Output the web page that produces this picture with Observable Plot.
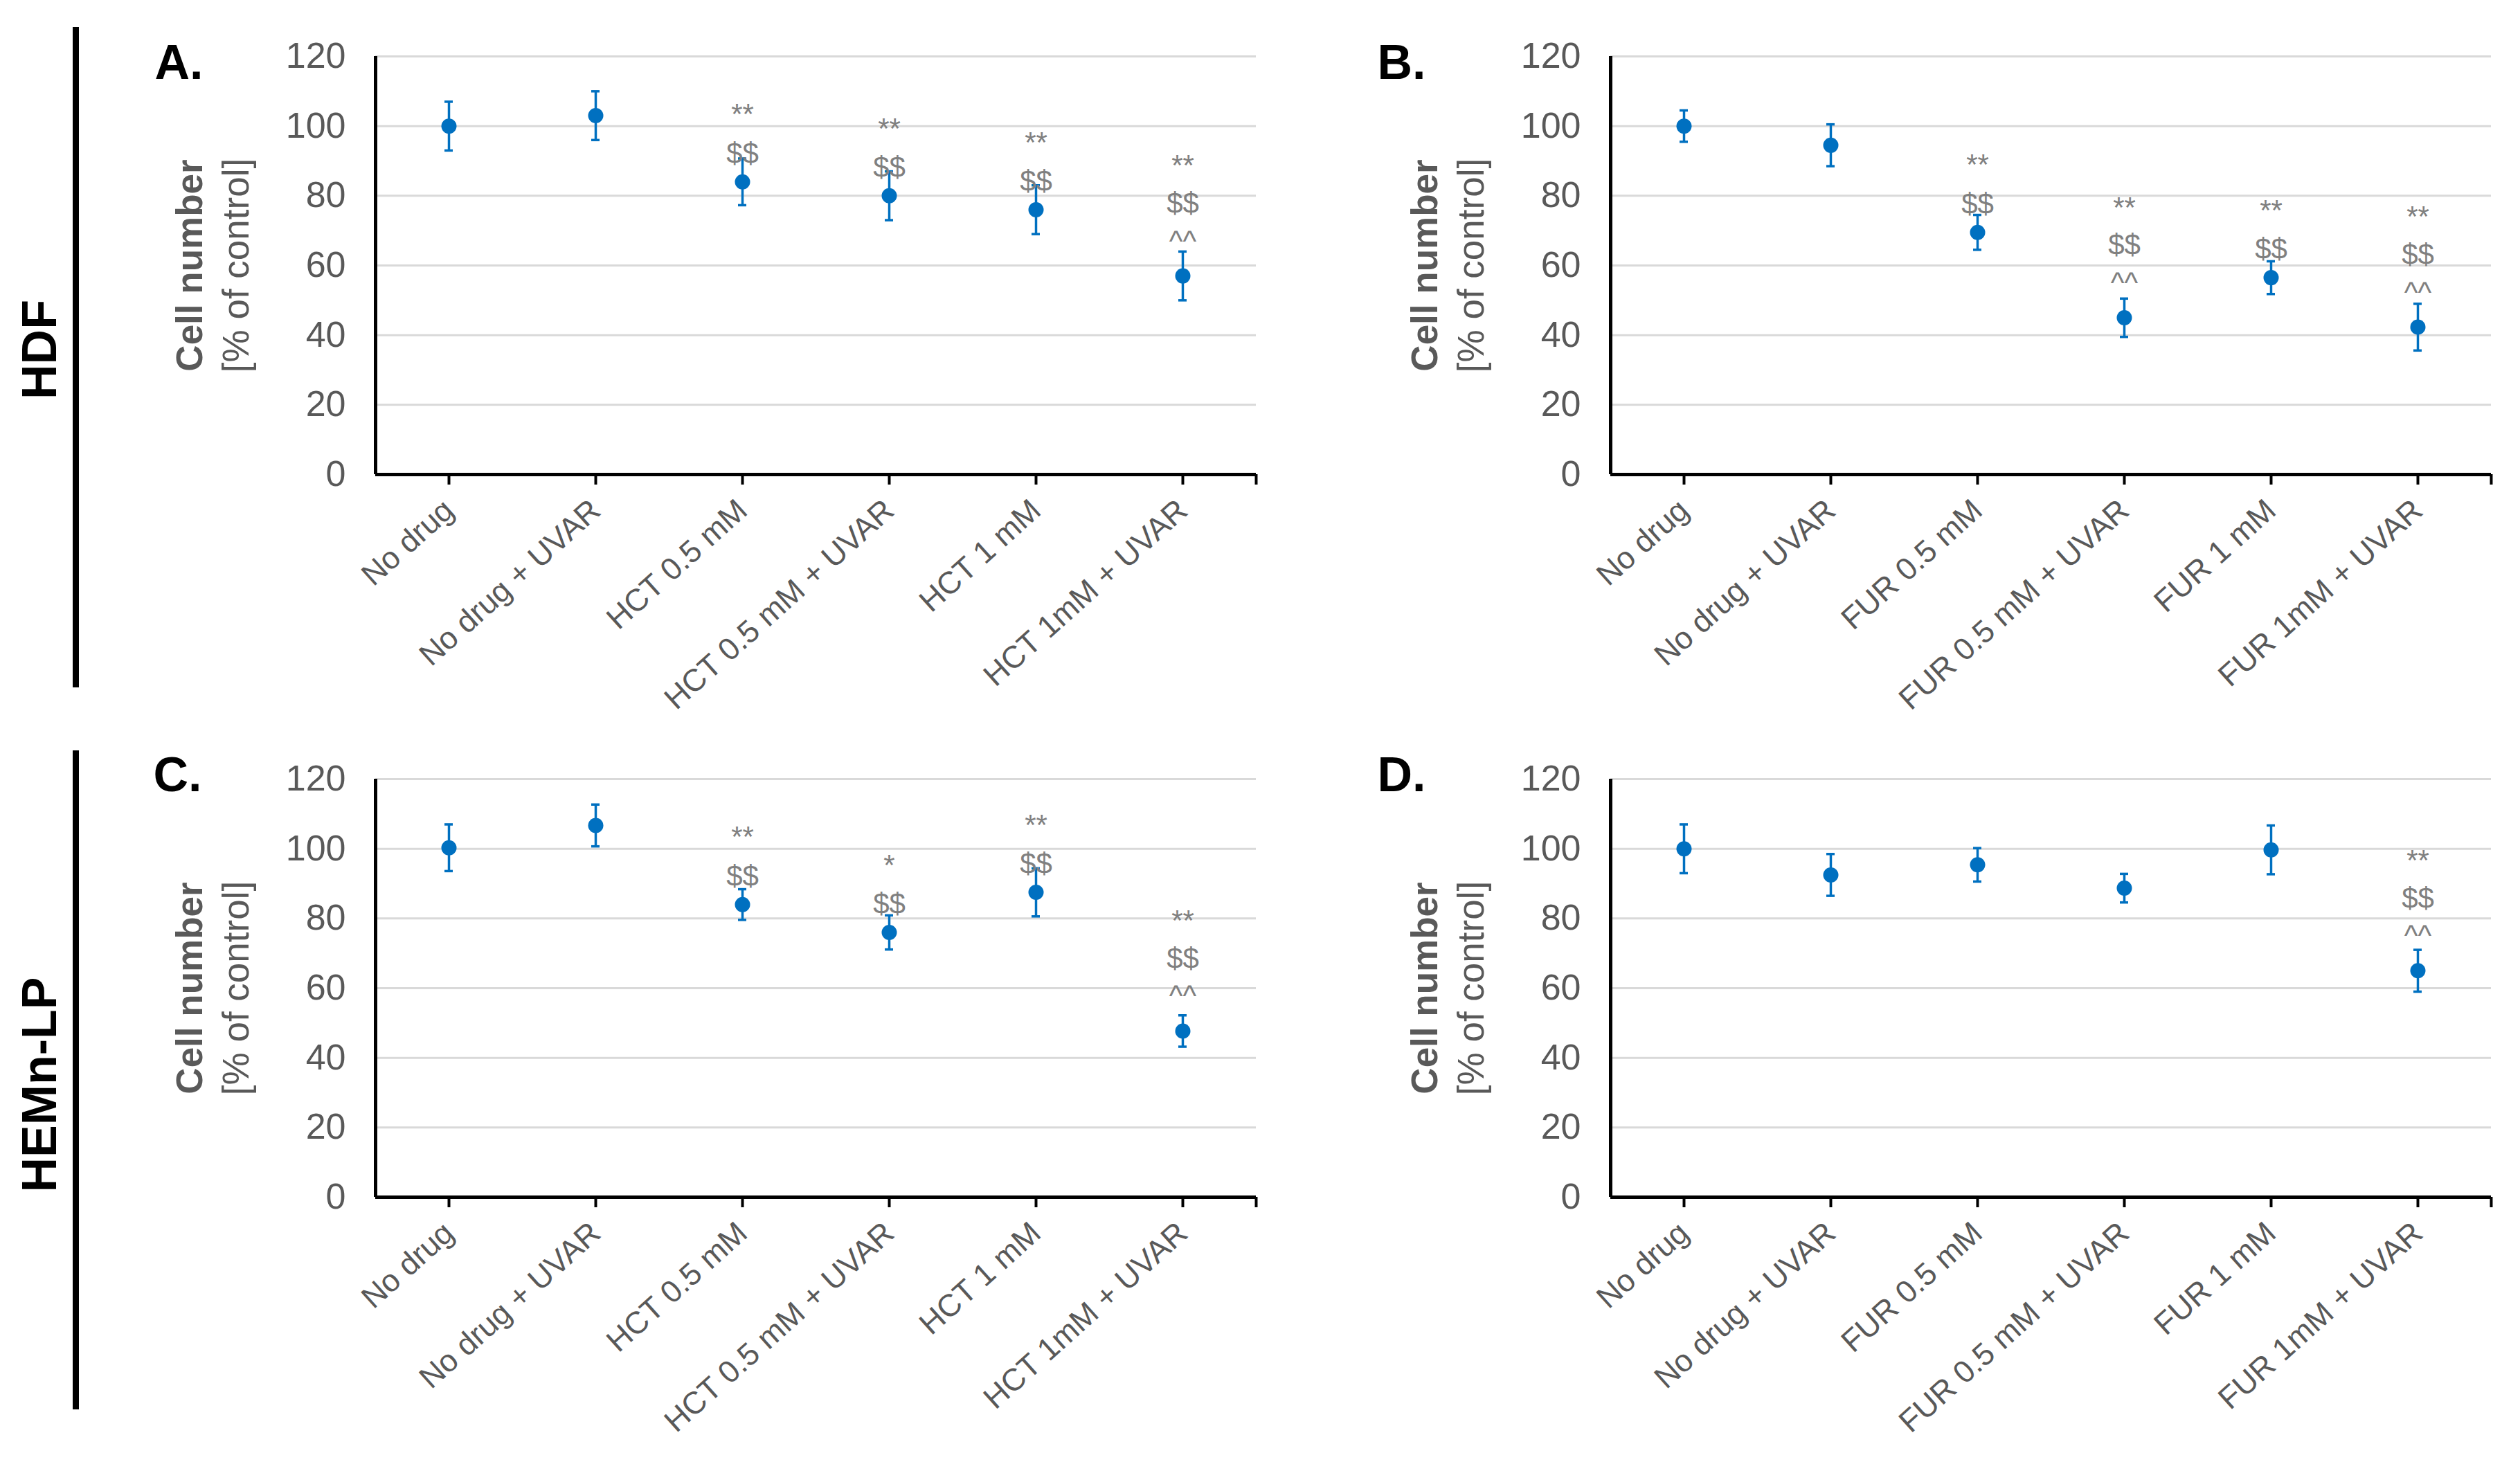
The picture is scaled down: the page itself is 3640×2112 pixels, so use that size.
<!DOCTYPE html>
<html><head><meta charset="utf-8">
<script src="https://cdn.jsdelivr.net/npm/d3@7"></script>
<script src="https://cdn.jsdelivr.net/npm/@observablehq/plot@0.6"></script>
<style>
body{margin:0;background:#fff;}
#wrap{position:relative;width:3640px;height:2112px;overflow:hidden;background:#fff;font-family:"Liberation Sans",Arial,sans-serif;}
.panel{position:absolute;}
.panel svg{max-width:none !important;background:transparent !important;}
.rowlab{position:absolute;font-weight:bold;font-size:70px;color:#000;transform:translate(-50%,-50%) rotate(-90deg);white-space:nowrap;line-height:1;}
.vline{position:absolute;width:9px;background:#000;}
</style></head><body><div id="wrap"></div>
<script>
// ---- data ----
const hctCats = ["No drug", "No drug + UVAR", "HCT 0.5 mM", "HCT 0.5 mM + UVAR", "HCT 1 mM", "HCT 1mM + UVAR"];
const furCats = ["No drug", "No drug + UVAR", "FUR 0.5 mM", "FUR 0.5 mM + UVAR", "FUR 1 mM", "FUR 1mM + UVAR"];
const yTicks = [0, 20, 40, 60, 80, 100, 120];

const hdfHctMean = [100, 103, 84, 80, 76, 57];
const hdfHctErr  = [7, 7, 6.7, 7, 7, 7];
const hdfHctSig  = ["", "", "**\n$$", "**\n$$", "**\n$$", "**\n$$\n^^"];

const hdfFurMean = [100, 94.5, 69.5, 45, 56.5, 42.3];
const hdfFurErr  = [4.5, 6, 5, 5.5, 4.7, 6.7];
const hdfFurSig  = ["", "", "**\n$$", "**\n$$\n^^", "**\n$$", "**\n$$\n^^"];

const hemHctMean = [100.3, 106.7, 84, 76, 87.5, 47.7];
const hemHctErr  = [6.7, 6, 4.4, 4.9, 6.9, 4.5];
const hemHctSig  = ["", "", "**\n$$", "*\n$$", "**\n$$", "**\n$$\n^^"];

const hemFurMean = [100, 92.5, 95.4, 88.7, 99.7, 65];
const hemFurErr  = [7, 6, 4.8, 4.1, 7, 6];
const hemFurSig  = ["", "", "", "", "", "**\n$$\n^^"];

const rowLabels = ["HDF", "HEMn-LP"];
const panelLetters = ["A.", "B.", "C.", "D."];
const yLabel1 = "Cell number";
const yLabel2 = "[% of control]";

// ---- drawing ----
const BLUE = "#0070C0";
const FONT = "Liberation Sans, Arial, Helvetica, sans-serif";

function panel(cats, mean, err, sig, letter, m) {
  const data = cats.map((c, i) => ({i, c, v: mean[i], e: err[i], s: sig[i]}));
  const two = data.filter(d => d.s && d.s.split("\n").length === 2);
  const three = data.filter(d => d.s && d.s.split("\n").length === 3);
  const xc = d => d.i + 0.5;
  return Plot.plot({
    width: 1820, height: 1056,
    marginLeft: m.l, marginRight: m.r, marginTop: m.t, marginBottom: m.b,
    style: {fontFamily: FONT, background: "transparent", overflow: "visible"},
    x: {domain: [0, cats.length], axis: null},
    y: {domain: [0, 120], axis: null},
    marks: [
      Plot.gridY(yTicks.filter(t => t > 0), {stroke: "#d9d9d9", strokeOpacity: 1, strokeWidth: 3}),
      Plot.axisY(yTicks, {tickSize: 0, tickPadding: 43, fontSize: 52, fill: "#595959", label: null}),
      Plot.axisX(d3.range(cats.length + 1).map(i => i === cats.length ? i : i + 0.5), {
        tickSize: 15, strokeWidth: 4, stroke: "#000", tickPadding: 30,
        tickFormat: t => t === cats.length ? "" : cats[t - 0.5],
        tickRotate: -42, fontSize: 45, fill: "#595959", label: null
      }),
      Plot.ruleX([0], {y1: 0, y2: 120, stroke: "#000", strokeWidth: 5}),
      Plot.ruleY([0], {x1: 0, x2: cats.length, stroke: "#000", strokeWidth: 5}),
      Plot.ruleX(data, {x: xc, y1: d => d.v - d.e, y2: d => d.v + d.e, stroke: BLUE, strokeWidth: 3.5}),
      Plot.ruleY(data, {y: d => d.v + d.e, x1: xc, x2: xc, insetLeft: -6, insetRight: -6, stroke: BLUE, strokeWidth: 3.5}),
      Plot.ruleY(data, {y: d => d.v - d.e, x1: xc, x2: xc, insetLeft: -6, insetRight: -6, stroke: BLUE, strokeWidth: 3.5}),
      Plot.dot(data, {x: xc, y: "v", r: 11, fill: BLUE, stroke: null}),
      Plot.text(two, {x: xc, y: "v", text: "s", lineAnchor: "bottom", dy: -27, lineHeight: 1.34, fontSize: 42, fill: "#808080"}),
      Plot.text(three, {x: xc, y: "v", text: "s", lineAnchor: "bottom", dy: -36, lineHeight: 1.3, fontSize: 42, fill: "#808080"}),
      Plot.text([yLabel1], {frameAnchor: "left", textAnchor: "middle", lineAnchor: "middle", rotate: -90, dx: m.yl1, fontSize: 53, fontWeight: "bold", fill: "#595959"}),
      Plot.text([yLabel2], {frameAnchor: "left", textAnchor: "middle", lineAnchor: "middle", rotate: -90, dx: m.yl2, fontSize: 53, fill: "#595959"}),
      Plot.text([letter], {frameAnchor: "top-left", textAnchor: "start", lineAnchor: "bottom", dx: m.lx, dy: m.ly, fontSize: 70, fontWeight: "bold", fill: "#000"})
    ]
  });
}

const wrap = document.getElementById("wrap");
const specs = [
  {cats: hctCats, mean: hdfHctMean, err: hdfHctErr, sig: hdfHctSig, letter: panelLetters[0], left: 0, top: 0,
   m: {l: 542, r: 6, t: 81, b: 371, yl1: -267, yl2: -200, lx: -319, ly: 32}},
  {cats: furCats, mean: hdfFurMean, err: hdfFurErr, sig: hdfFurSig, letter: panelLetters[1], left: 1820, top: 0,
   m: {l: 506, r: 42, t: 81, b: 371, yl1: -267, yl2: -200, lx: -337, ly: 32}},
  {cats: hctCats, mean: hemHctMean, err: hemHctErr, sig: hemHctSig, letter: panelLetters[2], left: 0, top: 1056,
   m: {l: 542, r: 6, t: 69, b: 383, yl1: -267, yl2: -200, lx: -321, ly: 17}},
  {cats: furCats, mean: hemFurMean, err: hemFurErr, sig: hemFurSig, letter: panelLetters[3], left: 1820, top: 1056,
   m: {l: 506, r: 42, t: 69, b: 383, yl1: -267, yl2: -200, lx: -337, ly: 17}}
];
for (const s of specs) {
  const div = document.createElement("div");
  div.className = "panel";
  div.style.left = s.left + "px";
  div.style.top = s.top + "px";
  div.appendChild(panel(s.cats, s.mean, s.err, s.sig, s.letter, s.m));
  wrap.appendChild(div);
}
// row labels and separator lines
const rows = [{label: rowLabels[0], cy: 505, y1: 39, y2: 993}, {label: rowLabels[1], cy: 1567, y1: 1084, y2: 2036}];
for (const r of rows) {
  const l = document.createElement("div");
  l.className = "rowlab";
  l.style.left = "57px";
  l.style.top = r.cy + "px";
  l.textContent = r.label;
  wrap.appendChild(l);
  const v = document.createElement("div");
  v.className = "vline";
  v.style.left = "105px";
  v.style.top = r.y1 + "px";
  v.style.height = (r.y2 - r.y1) + "px";
  wrap.appendChild(v);
}
</script></body></html>
